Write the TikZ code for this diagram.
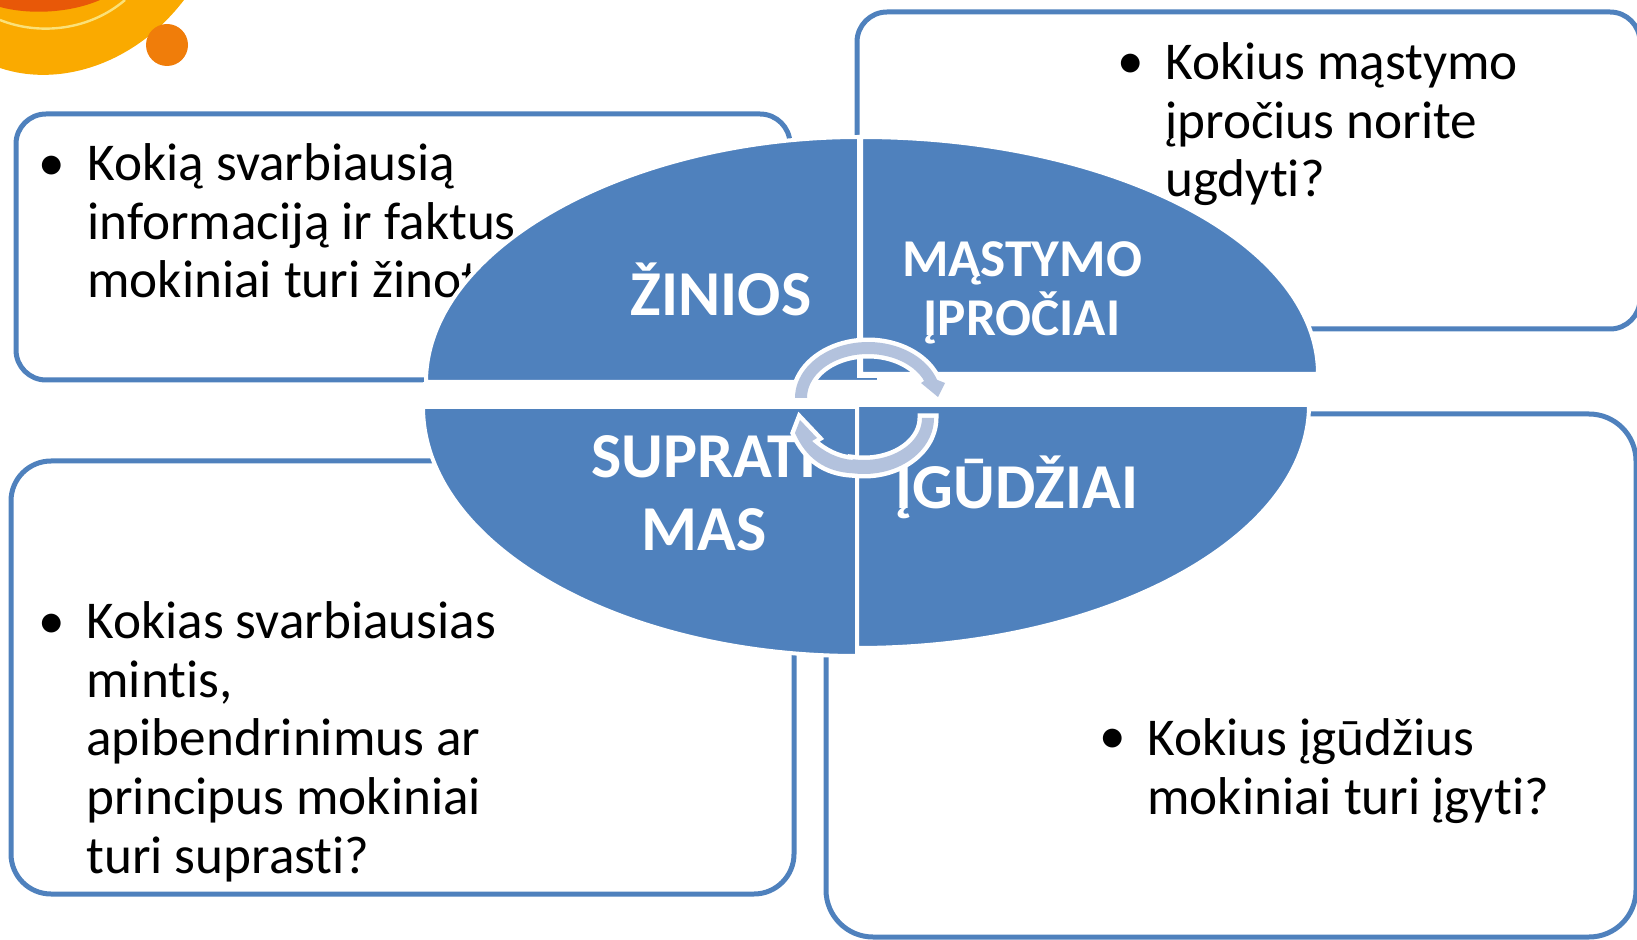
\documentclass[tikz,border=0pt]{standalone}
\usepackage{fontspec}
\setmainfont[Ligatures=NoCommon]{Carlito}
\definecolor{pieblue}{HTML}{4F81BD}
\definecolor{lightarc}{HTML}{B3C2DD}
\definecolor{sunring}{RGB}{250,170,0}
\definecolor{sunred}{RGB}{232,88,8}
\definecolor{sunline}{RGB}{250,225,120}
\definecolor{sundot}{RGB}{240,125,10}
\tikzset{
  infobox/.style={draw=pieblue,line width=2.5pt,fill=white},
  pie/.style={fill=pieblue,draw=white,line width=2pt},
  body/.style={anchor=north west,align=left,inner sep=0pt,font=\fontsize{26.6}{29.4}\selectfont,text=black},
  bul/.style={anchor=north west,inner sep=0pt,font=\fontsize{26.6}{29.4}\selectfont,text=black},
  headbig/.style={align=center,inner sep=0pt,text=white,font=\fontsize{32}{36.5}\selectfont\bfseries},
  headsmall/.style={align=center,inner sep=0pt,text=white,font=\fontsize{26.6}{29.7}\selectfont\bfseries},
  arcrim/.style={draw=white,line width=4.5pt,line join=miter,miter limit=6},
  arcfill/.style={fill=lightarc}
}
\def\toparc{plot[domain=180:341,samples=40] ({868+73*cos(\x)},{398+56*sin(\x)})
  -- (945,383) -- (938,397) -- (921,383) -- (924,381)
  -- plot[domain=334:180,samples=40] ({868+61*cos(\x)},{398+44*sin(\x)}) -- cycle}
\def\botarc{plot[domain=0:99,samples=30] ({864+70*cos(\x)},{418+56*sin(\x)})
  .. controls (825,472) and (806,458) .. (795,433)
  -- (800,420) -- (817,438) -- (812,441)
  .. controls (824,452) and (838,459) .. (853,460)
  -- plot[domain=101:0,samples=30] ({864+58*cos(\x)},{418+42*sin(\x)}) -- cycle}
\begin{document}
\begin{tikzpicture}[x=0.5pt,y=-0.5pt]
\useasboundingbox (0,0) rectangle (1637,940);
\clip (0,0) rectangle (1637,940);
% sun decoration
\fill[sunring] (0,68) .. controls (60,88) and (135,64) .. (184,0) -- (0,0) -- cycle;
\fill[sunred] (0,0) -- (0,7) .. controls (30,15) and (70,13) .. (100,0) -- cycle;
\draw[sunline,line width=1.2pt] (0,20) .. controls (40,36) and (90,30) .. (125,0);
\fill[sundot] (167,45) circle [radius=21];
% boxes
\draw[infobox,rounded corners=15pt] (16,114) rectangle (790,380);
\draw[infobox,rounded corners=15pt] (857,12) rectangle (1640,329);
\draw[infobox,rounded corners=20pt] (11,461) rectangle (794,894);
\draw[infobox,rounded corners=23.5pt] (826,414) rectangle (1636,937);
% body text
\node[bul] (b1) at (38,156) {•};
\node[body] (t1) at (87,143) {Kokią svarbiausią\\informaciją ir faktus\\mokiniai turi žinoti?};
\node[bul] (b2) at (1117,54) {•};
\node[body] (t2) at (1165,42) {Kokius mąstymo\\įpročius norite\\ugdyti?};
\node[bul] (b3) at (38,614) {•};
\node[body] (t3) at (86,601) {Kokias svarbiausias\\mintis,\\apibendrinimus ar\\principus mokiniai\\turi suprasti?};
\node[bul] (b4) at (1099,729) {•};
\node[body] (t4) at (1147,718) {Kokius įgūdžius\\mokiniai turi įgyti?};
% gap between the upper and lower quadrants
\fill[white] (423,382) rectangle (1320,405);
% pie quadrants
\draw[pie] (879,382) -- (426,382) .. controls (426,248) and (629,137) .. (859,137) -- (859,376) -- (879,376) -- cycle;
\draw[pie] (861,374) -- (861,137) .. controls (1113,137) and (1318,243) .. (1318,374) -- cycle;
\draw[pie] (857,407) -- (423,407) .. controls (423,543) and (617,656) .. (857,656) -- cycle;
\draw[pie] (857,405) -- (1309,405) .. controls (1309,537) and (1107,648) .. (857,648) -- cycle;
% labels
\node[headbig] (zin) at (721,289) {ŽINIOS};
\node[headsmall] (mas) at (1022,293) {MĄSTYMO\\ĮPROČIAI};
\node[headbig] (sup) at (704,493) {SUPRATI\\MAS};
\node[headbig] (igu) at (1017,487) {ĮGŪDŽIAI};
% cycle arrows
\draw[arcrim] \toparc;
\fill[arcfill] \toparc;
\draw[arcrim] \botarc;
\fill[arcfill] \botarc;
\end{tikzpicture}
\end{document}
